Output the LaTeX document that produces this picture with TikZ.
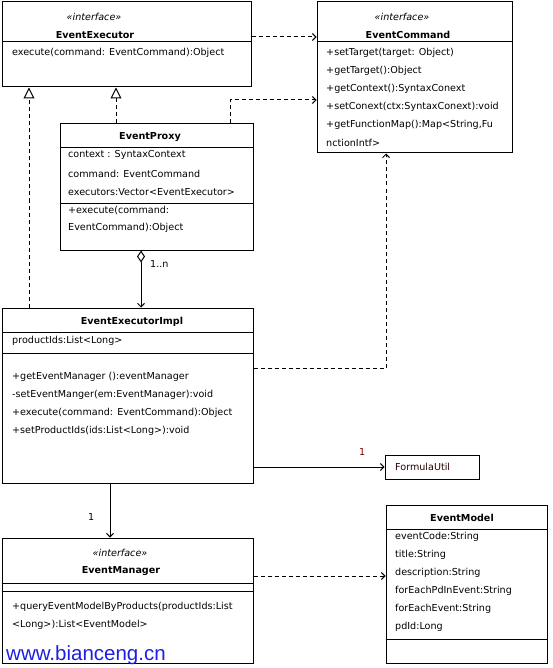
\documentclass[tikz,border=0pt]{standalone}
\usepackage{fontspec}
\setmainfont{DejaVu Sans}
\newfontfamily\wmfont{Liberation Sans}
\usetikzlibrary{arrows,arrows.meta,shapes,positioning}
\definecolor{wmblue}{RGB}{30,30,225}
\definecolor{multred}{RGB}{120,0,0}

\begin{document}
\begin{tikzpicture}[x=1pt,y=-1pt,
    box/.style={draw,line width=1pt,inner sep=0pt},
    txt/.style={anchor=west,inner sep=0pt,font=\fontsize{9.6}{11}\selectfont},
    ttl/.style={inner sep=0pt,font=\fontsize{9.6}{11}\selectfont\bfseries},
    ster/.style={inner sep=0pt,font=\fontsize{9.6}{11}\selectfont\itshape},
    dep/.style={line width=1pt,dash pattern=on 4pt off 3pt,
      -{Straight Barb[length=3.5pt,width=7pt]}},
    real/.style={line width=1pt,dash pattern=on 4pt off 3pt,
      -{Triangle[open,length=11pt,width=11pt]}},
    assoc/.style={line width=1pt,-{Straight Barb[length=3.5pt,width=7pt]}},
    agg/.style={line width=1pt,{Diamond[open,length=12pt,width=8pt]}-{Straight Barb[length=3.5pt,width=7pt]}}]

  \useasboundingbox (0,0) rectangle (552,668);

  % Definitions
  \pgfmathsetmacro{\dy}{18}

  % EventExecutor
  \node[box,minimum width=249,minimum height=85] (executor) at (126.5,44.5) {};
  \draw[line width=1pt] (executor.west |- 0,42) -- (executor.east |- 0,42);
  \node[ster] (executorS) at (94,17) {<<interface>>};
  \node[ttl] (executorT) at (95,35) {EventExecutor};
  \node[txt] (executorM) at (12,53) {execute(command: EventCommand):Object};

  % EventCommand
  \node[box,minimum width=195,minimum height=151] (command) at (414.5,77.5) {};
  \draw[line width=1pt] (command.west |- 0,42) -- (command.east |- 0,42);
  \node[ster] (commandS) at (402,17) {<<interface>>};
  \node[ttl] (commandT) at (408,35) {EventCommand};
  \foreach \t [count=\i from 0] in {+setTarget(target: Object),+getTarget():Object,
      +getContext():SyntaxConext,+setConext(ctx:SyntaxConext):void,
      {+getFunctionMap():Map<String,Fu},nctionIntf>}
    \node[txt] (commandM\i) at (326,53+\i*\dy) {\t};

  % EventProxy
  \node[box,minimum width=193,minimum height=126] (proxy) at (156.5,187) {};
  \draw[line width=1pt] (proxy.west |- 0,148) -- (proxy.east |- 0,148);
  \draw[line width=1pt] (proxy.west |- 0,204) -- (proxy.east |- 0,204);
  \node[ttl] (proxyT) at (150,137) {EventProxy};
  \node[txt] (proxyA0) at (68,155) {context : SyntaxContext};
  \node[txt] (proxyA1) at (68,174) {command: EventCommand};
  \node[txt] (proxyA2) at (68,192) {executors:Vector<EventExecutor>};
  \node[txt] (proxyM0) at (68,210) {+execute(command:};
  \node[txt] (proxyM1) at (68,228) {EventCommand):Object};

  % EventExecutorImpl
  \node[box,minimum width=251,minimum height=175] (impl) at (127.5,395.5) {};
  \draw[line width=1pt] (impl.west |- 0,332) -- (impl.east |- 0,332);
  \draw[line width=1pt] (impl.west |- 0,353) -- (impl.east |- 0,353);
  \node[ttl] (implT) at (132,322) {EventExecutorImpl};
  \node[txt] (implA) at (12,341) {productIds:List<Long>};
  \foreach \t [count=\i from 0] in {+getEventManager ():eventManager,
      -setEventManger(em:EventManager):void,+execute(command: EventCommand):Object,
      +setProductIds(ids:List<Long>):void}
    \node[txt] (implM\i) at (12,377+\i*\dy) {\t};

  % FormulaUtil
  \node[box,minimum width=94,minimum height=24] (formula) at (432,467) {};
  \node[txt,text=multred!35!black] (formulaT) at (395,467) {FormulaUtil};

  % EventManager
  \node[box,minimum width=251,minimum height=125] (manager) at (127.5,600.5) {};
  \draw[line width=1pt] (manager.west |- 0,583) -- (manager.east |- 0,583);
  \draw[line width=1pt] (manager.west |- 0,591) -- (manager.east |- 0,591);
  \node[ster] (managerS) at (120,553) {<<interface>>};
  \node[ttl] (managerT) at (121,571) {EventManager};
  \node[txt] (managerM0) at (12,607) {+queryEventModelByProducts(productIds:List};
  \node[txt] (managerM1) at (12,625) {<Long>):List<EventModel>};

  % EventModel
  \node[box,minimum width=161,minimum height=158] (model) at (466.5,584) {};
  \draw[line width=1pt] (model.west |- 0,529) -- (model.east |- 0,529);
  \draw[line width=1pt] (model.west |- 0,639) -- (model.east |- 0,639);
  \node[ttl] (modelT) at (462,518) {EventModel};
  \foreach \t [count=\i from 0] in {eventCode:String,title:String,description:String,
      forEachPdInEvent:String,forEachEvent:String,pdId:Long}
    \node[txt] (modelA\i) at (395,537+\i*\dy) {\t};

  % watermark
  \node[anchor=base west,inner sep=0pt,text=wmblue,
    font=\wmfont\fontsize{20.5}{22}\selectfont] (mark) at (6,660) {www.bianceng.cn};

  % connectors
  \coordinate (bendB) at (230,100);
  \coordinate (bendC) at (386,368);
  \draw[dep] (executor.east |- 0,37) -- (command.west |- 0,37);
  \draw[dep] (proxy.north -| bendB) |- (command.west |- bendB);
  \draw[dep] (impl.east |- bendC) -| (command.south -| bendC);
  \draw[dep] (manager.east |- 0,576) -- (model.west |- 0,576);
  \draw[real] (impl.north -| 29,0) -- (executor.south -| 29,0);
  \draw[real] (proxy.north -| 116,0) -- (executor.south -| 116,0);
  \draw[agg] (proxy.south -| 141,0) -- (impl.north -| 141,0);
  \draw[assoc] (impl.east |- formula.west) -- (formula.west);
  \draw[assoc] (impl.south -| 110,0) -- (manager.north -| 110,0);

  % multiplicities
  \node[txt,text=multred] (mulF) at (359,452) {1};
  \node[txt] (mulM) at (88,517) {1};
  \node[txt] (mulP) at (150,264) {1..n};
\end{tikzpicture}
\end{document}
